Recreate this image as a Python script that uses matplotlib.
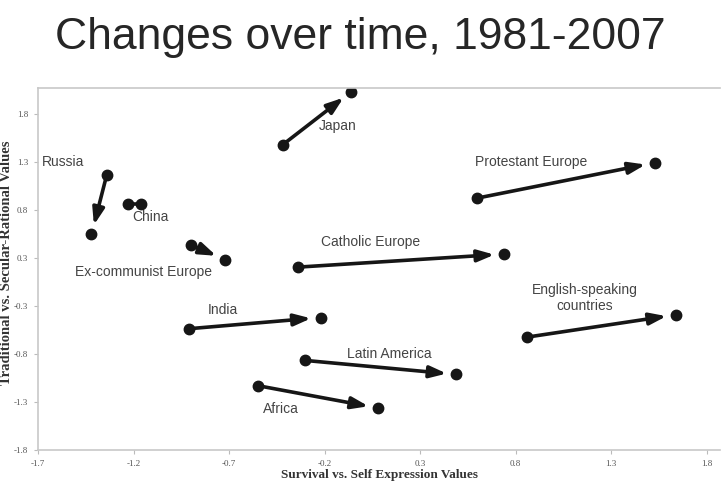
import matplotlib
matplotlib.use('Agg')
import matplotlib.pyplot as plt
import numpy as np

# region name, start (1981) and end (2007) positions
regions = ['Japan', 'Russia', 'China', 'Ex-communist Europe', 'Catholic Europe',
           'Protestant Europe', 'English-speaking countries', 'India',
           'Latin America', 'Africa']
x_start = [-0.42, -1.34, -1.23, -0.90, -0.34, 0.60, 0.86, -0.91, -0.30, -0.55]
y_start = [1.47, 1.15, 0.84, 0.40, 0.16, 0.90, -0.59, -0.50, -0.84, -1.11]
x_end = [-0.06, -1.42, -1.16, -0.72, 0.74, 1.53, 1.64, -0.22, 0.49, 0.08]
y_end = [2.04, 0.51, 0.84, 0.24, 0.30, 1.28, -0.35, -0.38, -0.99, -1.35]
has_arrow = [True, True, False, True, True, True, True, True, True, True]

label_x = [-0.13, -1.57, -1.11, -1.15, 0.04, 0.88, 1.16, -0.73, 0.14, -0.43]
label_y = [1.67, 1.29, 0.70, 0.11, 0.43, 1.29, -0.17, -0.30, -0.77, -1.36]
label_text = ['Japan', 'Russia', 'China', 'Ex-communist Europe', 'Catholic Europe',
              'Protestant Europe', 'English-speaking\ncountries', 'India',
              'Latin America', 'Africa']

x_ticks = [-1.7, -1.2, -0.7, -0.2, 0.3, 0.8, 1.3, 1.8]
y_tick_labels = ['-1.8', '-1.3', '-0.8', '-0.3', '0.3', '0.8', '1.3', '1.8']

fig = plt.figure(figsize=(7.21, 4.86), dpi=100)
ax = fig.add_axes([0.0527, 0.074, 0.946, 0.745])

dark = '#161616'
for i in range(len(regions)):
    if has_arrow[i]:
        ax.annotate('', xy=(x_end[i], y_end[i]), xytext=(x_start[i], y_start[i]),
                    arrowprops=dict(arrowstyle='-|>,head_length=1.0,head_width=0.35',
                                    color=dark, lw=2.6, shrinkA=0, shrinkB=7))
    else:
        ax.plot([x_start[i], x_end[i]], [y_start[i], y_end[i]], color=dark, lw=2.6)
    ax.plot([x_start[i], x_end[i]], [y_start[i], y_end[i]], 'o', color=dark,
            markersize=7.5, linestyle='none')

for i in range(len(label_text)):
    ax.text(label_x[i], label_y[i], label_text[i], ha='center', va='center',
            fontsize=10, color='#444444', family='Liberation Sans')

ax.set_xlim(-1.7, 1.87)
ax.set_ylim(-1.8, 2.08)
ax.set_xticks(x_ticks)
ax.set_xticklabels([str(t) for t in x_ticks])
ax.set_yticks(np.linspace(-1.8, 1.8, 8))
ax.set_yticklabels(y_tick_labels)
for lab in ax.get_xticklabels() + ax.get_yticklabels():
    lab.set_family('Liberation Serif')
    lab.set_fontsize(6.5)
    lab.set_color('#555555')
ax.tick_params(length=3, color='#bbbbbb', pad=4)

for side in ['left', 'bottom', 'top']:
    ax.spines[side].set_color('#c8c8c8')
    ax.spines[side].set_linewidth(1.2)
ax.spines['right'].set_visible(False)

ax.set_xlabel('Survival vs. Self Expression Values', family='Liberation Serif',
              fontweight='bold', fontsize=9.5, color='#333333', labelpad=1)
ax.set_ylabel('Traditional vs. Secular-Rational Values', family='Liberation Serif',
              fontweight='bold', fontsize=10.5, color='#333333')
ax.yaxis.set_label_coords(-0.036, 0.517)

fig.text(0.5, 0.922, 'Changes over time, 1981-2007', ha='center', va='center',
         fontsize=32, color='#262626', family='Liberation Sans')

plt.savefig('out.png', dpi=100)
plt.close(fig)
